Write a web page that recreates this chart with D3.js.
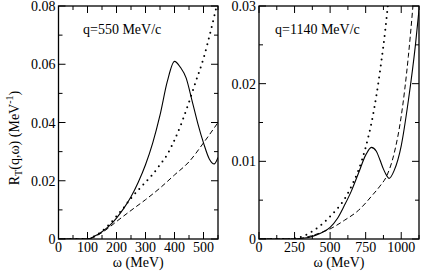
<!DOCTYPE html>
<html><head><meta charset="utf-8">
<script src="https://cdn.jsdelivr.net/npm/d3@7"></script>
<style>
body{margin:0;background:#fff;}
</style></head>
<body><svg id="c" width="422" height="273"></svg>
<script>
// ---- data ----
const leftSolidW = [0,50,100,125,150,175,200,225,250,275,300,325,350,375,400,420,440,460,480,500,520,537,550];
const leftSolidR = [0,0,0,0.001,0.0025,0.0045,0.0072,0.0105,0.0145,0.0195,0.0255,0.033,0.0425,0.054,0.061,0.059,0.0553,0.0477,0.0398,0.033,0.0275,0.0258,0.028];
const leftDotW = [0,50,100,125,150,175,200,225,250,275,300,325,350,375,400,425,450,475,500,525,550];
const leftDotR = [0,0,0,0.001,0.0027,0.005,0.0078,0.0108,0.014,0.0168,0.0195,0.0222,0.0255,0.029,0.034,0.04,0.047,0.0545,0.062,0.0715,0.082];
const leftDashW = [0,100,125,150,175,200,250,300,350,400,450,500,550];
const leftDashR = [0,0,0.0008,0.0022,0.004,0.006,0.0098,0.0135,0.0175,0.022,0.0265,0.033,0.040];

const rightSolidW = [0,250,300,350,400,450,500,550,600,650,700,750,790,825,850,875,900,915,950,1000,1050,1100,1125];
const rightSolidR = [0,0,0.0001,0.0002,0.0005,0.0009,0.0015,0.0026,0.0043,0.0062,0.0085,0.0108,0.0118,0.0113,0.0102,0.009,0.0081,0.0078,0.0088,0.012,0.0178,0.025,0.0295];
const rightDotW = [0,200,250,300,350,400,450,500,550,600,650,700,750,800,850,900,925];
const rightDotR = [0,0,0.0001,0.0003,0.0007,0.0013,0.002,0.0029,0.0039,0.0051,0.0068,0.0089,0.0118,0.0158,0.0215,0.029,0.034];
const rightDashW = [0,250,300,400,500,600,700,800,850,900,950,1000,1050,1080,1100];
const rightDashR = [0,0,0.0001,0.0006,0.0013,0.0024,0.0037,0.0057,0.0068,0.0082,0.011,0.0158,0.0235,0.0295,0.034];

const leftXTicks = [0,100,200,300,400,500];
const leftYTicks = [0,0.02,0.04,0.06,0.08];
const rightXTicks = [0,250,500,750,1000];
const rightYTicks = [0,0.01,0.02,0.03];
const labels = ["q=550 MeV/c","q=1140 MeV/c"];

const FONT = "'Liberation Serif', 'Times New Roman', 'DejaVu Serif', serif";
const svg = d3.select("#c").attr("font-family", FONT);
const pTop=6, pBottom=239;

function panel(id, x0, x1, xmax, ymax, xt, xminor, yt, yminor, fmtY, series, label, labelX){
  const x = d3.scaleLinear().domain([0,xmax]).range([x0,x1]);
  const y = d3.scaleLinear().domain([0,ymax]).range([pBottom,pTop]);
  const g = svg.append("g");
  g.append("clipPath").attr("id",id).append("rect")
    .attr("x",x0).attr("y",pTop).attr("width",x1-x0).attr("height",pBottom-pTop);
  const line = d3.line().x(d=>x(d[0])).y(d=>y(d[1])).curve(d3.curveMonotoneX);
  series.forEach(s=>{
    g.append("path").attr("clip-path",`url(#${id})`)
      .attr("d", line(s.w.map((w,i)=>[w,s.r[i]])))
      .attr("fill","none").attr("stroke","#000")
      .attr("stroke-width", s.sw).attr("stroke-dasharray", s.dash||null)
      .attr("stroke-linecap", s.cap||"butt");
  });
  const major=7, minor=4;
  const xall = d3.range(0, xmax+1e-9, xminor);
  xall.forEach(v=>{
    const isM = xt.some(t=>Math.abs(t-v)<1e-9);
    const L = isM?major:minor;
    g.append("line").attr("x1",x(v)).attr("x2",x(v)).attr("y1",pBottom).attr("y2",pBottom-L).attr("stroke","#000");
    g.append("line").attr("x1",x(v)).attr("x2",x(v)).attr("y1",pTop).attr("y2",pTop+L).attr("stroke","#000");
  });
  const yall = d3.range(0, ymax+1e-9, yminor);
  yall.forEach(v=>{
    const isM = yt.some(t=>Math.abs(t-v)<1e-9);
    const L = isM?major:minor;
    g.append("line").attr("y1",y(v)).attr("y2",y(v)).attr("x1",x0).attr("x2",x0+L).attr("stroke","#000");
    g.append("line").attr("y1",y(v)).attr("y2",y(v)).attr("x1",x1).attr("x2",x1-L).attr("stroke","#000");
  });
  g.append("rect").attr("x",x0).attr("y",pTop).attr("width",x1-x0).attr("height",pBottom-pTop)
    .attr("fill","none").attr("stroke","#000").attr("stroke-width",1.3);
  xt.forEach(v=>{
    g.append("text").attr("x",x(v)).attr("y",pBottom+13).attr("text-anchor","middle")
      .attr("font-size",14).text(String(v));
  });
  yt.forEach(v=>{
    g.append("text").attr("x",x0-3).attr("y",y(v)+5).attr("text-anchor","end")
      .attr("font-size",14).text(fmtY(v));
  });
  g.append("text").attr("x",labelX).attr("y",34).attr("font-size",14).text(label);
  g.append("text").attr("x",(x0+x1)/2).attr("y",267).attr("text-anchor","middle").attr("font-size",14)
    .text("ω (MeV)");
}

const fmt = v => v===0 ? "0" : d3.format(".2f")(v);
panel("cl",58.5,218,550,0.08,leftXTicks,50,leftYTicks,0.01,fmt,[
  {w:leftSolidW,r:leftSolidR,sw:1.1},
  {w:leftDotW,r:leftDotR,sw:2,dash:"0,6",cap:"round"},
  {w:leftDashW,r:leftDashR,sw:1,dash:"5,3"}
],labels[0],83);
panel("cr",259,419,1125,0.03,rightXTicks,125,rightYTicks,0.005,fmt,[
  {w:rightSolidW,r:rightSolidR,sw:1.1},
  {w:rightDotW,r:rightDotR,sw:2,dash:"0,6",cap:"round"},
  {w:rightDashW,r:rightDashR,sw:1,dash:"5,3"}
],labels[1],275);

const yTitle = svg.append("text").attr("transform","translate(19,138) rotate(-90)")
  .attr("text-anchor","middle").attr("font-size",14);
yTitle.append("tspan").text("R");
yTitle.append("tspan").attr("font-size",10).attr("dy",3).text("T");
yTitle.append("tspan").attr("dy",-3).text("(q,ω) (MeV");
yTitle.append("tspan").attr("font-size",10).attr("dy",-6).text("-1");
yTitle.append("tspan").attr("dy",6).text(")");
</script></body></html>
